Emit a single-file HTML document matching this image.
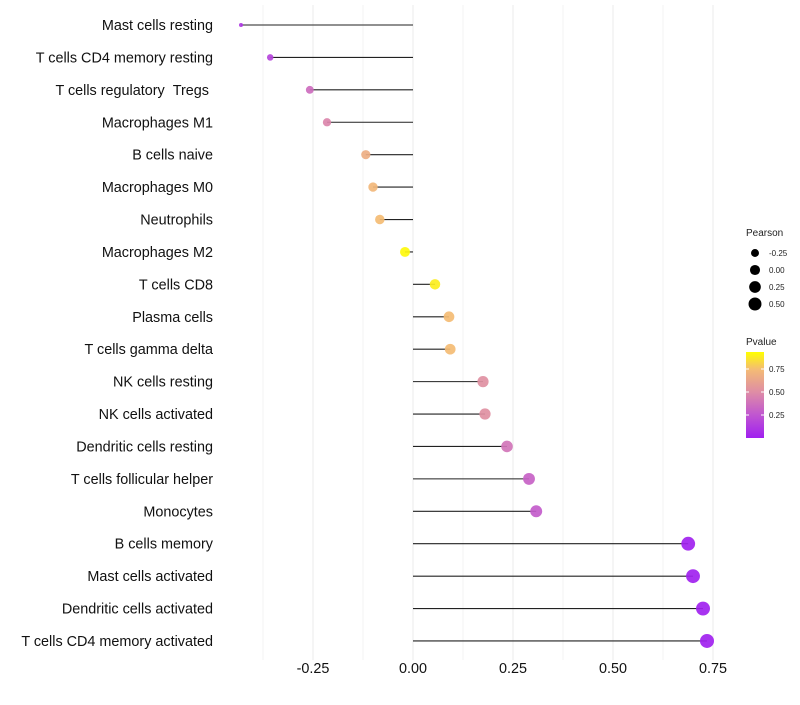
<!DOCTYPE html>
<html><head><meta charset="utf-8"><style>
body{margin:0;background:#fff;font-family:"Liberation Sans",sans-serif}
svg text{font-family:"Liberation Sans",sans-serif}
</style></head><body>
<svg id="chart" width="800" height="700" xmlns="http://www.w3.org/2000/svg">
<defs><linearGradient id="pg" x1="0" y1="1" x2="0" y2="0">
<stop offset="0" stop-color="#A020F0"/><stop offset="0.27" stop-color="#C056D0"/><stop offset="0.53" stop-color="#DE8CA6"/><stop offset="0.8" stop-color="#F4BC74"/><stop offset="1" stop-color="#FFFF00"/>
</linearGradient></defs>
<g id="grid"></g><g id="marks"></g><g id="labels"></g><g id="ticks"></g>
<g id="legend">
<text x="746" y="236" font-size="10" fill="#222">Pearson</text>
<g id="sizeLegend"></g>
<text x="746" y="345" font-size="10" fill="#222">Pvalue</text>
<rect x="746" y="352" width="18" height="86" fill="url(#pg)"/>
<g id="colorTicks"></g>
</g>
</svg>
<script>
const categories=["Mast cells resting","T cells CD4 memory resting","T cells regulatory \u00a0Tregs\u00a0","Macrophages M1","B cells naive","Macrophages M0","Neutrophils","Macrophages M2","T cells CD8","Plasma cells","T cells gamma delta","NK cells resting","NK cells activated","Dendritic cells resting","T cells follicular helper","Monocytes","B cells memory","Mast cells activated","Dendritic cells activated","T cells CD4 memory activated"];
const pearson=[-0.43,-0.357,-0.258,-0.215,-0.118,-0.1,-0.083,-0.02,0.055,0.09,0.093,0.175,0.18,0.235,0.29,0.308,0.688,0.70,0.725,0.735];
const pvalue=[0.12,0.18,0.38,0.5,0.72,0.77,0.8,0.98,0.95,0.8,0.8,0.55,0.55,0.42,0.33,0.3,0.01,0.01,0.01,0.01];
const xTicks=[-0.25,0,0.25,0.5,0.75];
const xTickLabels=["-0.25","0.00","0.25","0.50","0.75"];
const sizeLegendVals=[-0.25,0,0.25,0.5];
const sizeLegendLabels=["-0.25","0.00","0.25","0.50"];
const pTicks=[0.25,0.5,0.75];
const pTickLabels=["0.25","0.50","0.75"];

const NS="http://www.w3.org/2000/svg";
const X=v=>413+v*400;
const Y=i=>25+i*32.42;
const R=v=>2+5*Math.sqrt(Math.max(0,(v+0.43)/1.16));
const stops=[[0,[160,32,240]],[0.27,[192,86,208]],[0.53,[222,140,166]],[0.8,[244,188,116]],[1,[255,255,0]]];
function col(p){for(let k=1;k<stops.length;k++){if(p<=stops[k][0]){const a=stops[k-1],b=stops[k],t=(p-a[0])/(b[0]-a[0]);return "rgb("+a[1].map((c,j)=>Math.round(c+(b[1][j]-c)*t)).join(",")+")";}}return "rgb(255,255,0)";}
function mk(tag,attrs,parent){const e=document.createElementNS(NS,tag);for(const k in attrs)e.setAttribute(k,attrs[k]);document.getElementById(parent).appendChild(e);return e;}
const PY=(p)=>438-p*92;
for(let g=-0.375;g<=0.751;g+=0.125){
 const l=mk("line",{x1:X(g),x2:X(g),y1:5,y2:660,stroke:"#ebebeb","stroke-width":Math.abs(g*4-Math.round(g*4))<0.01?1:0.6},"grid");
 
 
}
categories.forEach((c,i)=>{
 const s=mk("line",{x1:X(0),x2:X(pearson[i]),y1:Y(i),y2:Y(i),stroke:"#222","stroke-width":1.1},"marks");
 
 
 const d=mk("circle",{cx:X(pearson[i]),cy:Y(i),r:R(pearson[i]),fill:col(pvalue[i]),"fill-opacity":0.92},"marks");
 
 
 const t=mk("text",{x:213,y:Y(i)+5,"font-size":14.4,"text-anchor":"end",fill:"#111"},"labels");
 t.textContent=c;
 
 
});
xTicks.forEach((v,i)=>{
 const t=mk("text",{x:X(v),y:673,"font-size":14.4,"text-anchor":"middle",fill:"#111"},"ticks");
 t.textContent=xTickLabels[i];
 
 
});
sizeLegendVals.forEach((v,i)=>{
 const y=253+i*17;
 const c=mk("circle",{cx:755,cy:y,r:R(v),fill:"#000"},"sizeLegend");
 
 
 const t=mk("text",{x:769,y:y+3,"font-size":8,fill:"#222"},"sizeLegend");
 t.textContent=sizeLegendLabels[i];
 
 
});
pTicks.forEach((v,i)=>{
 const y=PY(v);
 mk("line",{x1:746,x2:749,y1:y,y2:y,stroke:"#fff"},"colorTicks");
 mk("line",{x1:761,x2:764,y1:y,y2:y,stroke:"#fff"},"colorTicks");
 const t=mk("text",{x:769,y:y+3,"font-size":8,fill:"#222"},"colorTicks");
 t.textContent=pTickLabels[i];
 
 
});
</script>
</body></html>
